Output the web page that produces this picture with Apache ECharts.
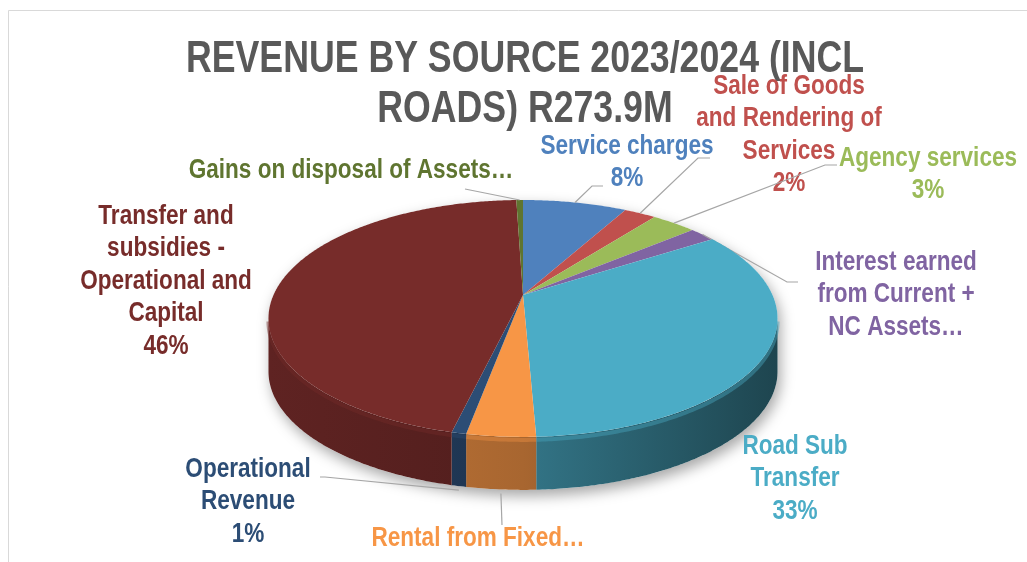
<!DOCTYPE html>
<html>
<head>
<meta charset="utf-8">
<script src="https://cdn.jsdelivr.net/npm/echarts@6/dist/echarts.min.js"></script>
<style>
html, body { margin: 0; padding: 0; background: #fff; }
#chart { width: 1027px; height: 562px; }
</style>
</head>
<body>
<div id="chart"></div>
<script>
// revenue by source, R million (total 273.9)
var categories = ['Service charges', 'Sale of Goods and Rendering of Services', 'Agency services',
  'Interest earned from Current + NC Assets', 'Road Sub Transfer', 'Rental from Fixed Assets',
  'Operational Revenue', 'Transfer and subsidies - Operational and Capital', 'Gains on disposal of Assets'];
var values = [21.9, 6.7, 9.4, 5.5, 91.6, 9.9, 2.1, 125.4, 1.4];
// label text as printed on the chart (truncated ones have no percentage)
var labelText = ['Service charges', 'Sale of Goods\nand Rendering of\nServices', 'Agency services',
  'Interest earned\nfrom Current +\nNC Assets\u2026', 'Road Sub\nTransfer', 'Rental from Fixed\u2026',
  'Operational\nRevenue', 'Transfer and\nsubsidies -\nOperational and\nCapital', 'Gains on disposal of Assets\u2026'];
var showPercent = [true, true, true, false, true, false, true, true, false];
var titleText = 'REVENUE BY SOURCE 2023/2024 (INCL\nROADS) R273.9M';

var colors = ['#4f81bd', '#c0504d', '#9bbb59', '#8064a2', '#4bacc6', '#f79646', '#2c4d75', '#772c2a', '#5f7530'];
var FONT = '"Liberation Sans", Arial, sans-serif';
var NARROW = 0.82; // squeeze to a narrow face

// 3d pie geometry (perspective ellipse)
var pie = { cx: 523, cy: 295, a: 113.8, b: 249.5, k: 0.198, depth: 53 };
var labelPos = [[627, 130], [789, 70], [928, 142], [896, 246], [795, 430], [478, 522], [248, 453], [166, 200], [351, 154]];
var leader = [
  [[592, 186], [603, 186]],
  [[698, 158], [710, 158]],
  [[825, 165], [837, 165]],
  [[787, 282], [798, 282]],
  null,
  [[502, 525]],
  [[325, 477], [320, 477]],
  null,
  [[465, 189]]
];
var leaderFront = [false, false, false, false, false, true, true, false, false];

var total = values.reduce(function (s, v) { return s + v; }, 0);
var starts = [];
values.reduce(function (s, v) { starts.push(s); return s + v; }, 0);

function point(t, dy) {
  var u = Math.sin(t), v = -Math.cos(t), s = 1 / (1 - pie.k * v);
  return [pie.cx + pie.b * u * s, pie.cy + pie.a * v * s + dy];
}
function arc(t1, t2, dy) {
  var pts = [], n = Math.max(2, Math.ceil(Math.abs(t2 - t1) / 0.01));
  for (var i = 0; i <= n; i++) pts.push(point(t1 + (t2 - t1) * i / n, dy));
  return pts;
}
function shade(hex, f) {
  var c = parseInt(hex.slice(1), 16);
  var r = Math.min(255, Math.round(((c >> 16) & 255) * f)),
      g = Math.min(255, Math.round(((c >> 8) & 255) * f)),
      b = Math.min(255, Math.round((c & 255) * f));
  return 'rgb(' + r + ',' + g + ',' + b + ')';
}

var tR = Math.acos(-pie.k), tL = 2 * Math.PI - tR;
var xL = point(tL, 0)[0], xR = point(tR, 0)[0];

function renderSlice(params, api) {
  var i = params.dataIndex;
  var t1 = api.value(1) / total * 2 * Math.PI;
  var t2 = (api.value(1) + api.value(0)) / total * 2 * Math.PI;
  var col = colors[i];
  var children = [];
  var w1 = Math.max(t1, tR), w2 = Math.min(t2, tL);
  if (w2 > w1) {
    var wall = arc(w1, w2, 0).concat(arc(w2, w1, pie.depth));
    children.push({
      type: 'polygon', shape: { points: wall },
      style: {
        fill: new echarts.graphic.LinearGradient(xL, 0, xR, 0, [
          { offset: 0, color: shade(col, 0.8) },
          { offset: 0.5, color: shade(col, 0.68) },
          { offset: 1, color: shade(col, 0.4) }
        ], true)
      }
    });
    // soft bevel at the top of the wall
    children.push({
      type: 'polyline', shape: { points: arc(w1, w2, 3) },
      style: { stroke: shade(col, 0.95), lineWidth: 4, opacity: 0.45, fill: null }
    });
  }
  children.push({
    type: 'polygon', shape: { points: [[pie.cx, pie.cy]].concat(arc(t1, t2, 0)) },
    style: { fill: col }
  });
  var mid = (t1 + t2) / 2;
  if (leader[i]) {
    var p0 = point(mid, leaderFront[i] ? pie.depth + 4 : 0);
    children.push({
      type: 'polyline', shape: { points: [p0].concat(leader[i]) },
      style: { stroke: '#a6a6a6', lineWidth: 1.2, fill: null }
    });
  }
  var txt = labelText[i];
  if (showPercent[i]) txt += '\n' + Math.round(api.value(0) / total * 100) + '%';
  children.push({
    type: 'text', x: labelPos[i][0], y: labelPos[i][1], scaleX: NARROW,
    style: {
      text: txt, fill: col, fontSize: 27.5, fontWeight: 'bold', fontFamily: FONT,
      align: 'center', verticalAlign: 'top', lineHeight: 32.5
    }
  });
  return { type: 'group', children: children };
}

function renderBase() {
  var outline = arc(tL - 2 * Math.PI, tR, 0).concat(arc(tR, tL, pie.depth));
  return {
    type: 'polygon', shape: { points: outline },
    style: { fill: '#ffffff', shadowColor: 'rgba(0,0,0,0.35)', shadowBlur: 14, shadowOffsetX: 3, shadowOffsetY: 6 }
  };
}

var chart = echarts.init(document.getElementById('chart'));
var option = {
  backgroundColor: '#ffffff',
  animation: false,
  graphic: [
    { type: 'rect', shape: { x: 8.5, y: 10.5, width: 1100, height: 700 }, style: { fill: 'none', stroke: '#d9d9d9', lineWidth: 1 }, z: 0 },
    {
      type: 'text', x: 525, y: 35, scaleX: NARROW,
      style: {
        text: titleText, fill: '#595959', fontSize: 43.5, fontWeight: 'bold', fontFamily: FONT,
        align: 'center', verticalAlign: 'top', lineHeight: 50
      }
    }
  ],
  series: [
    { type: 'custom', coordinateSystem: 'none', z: 1, silent: true, data: [0], renderItem: renderBase },
    {
      type: 'custom', coordinateSystem: 'none', z: 2,
      data: values.map(function (v, i) { return { name: categories[i], value: [v, starts[i]] }; }),
      renderItem: renderSlice
    }
  ]
};
chart.setOption(option);
</script>
</body>
</html>
